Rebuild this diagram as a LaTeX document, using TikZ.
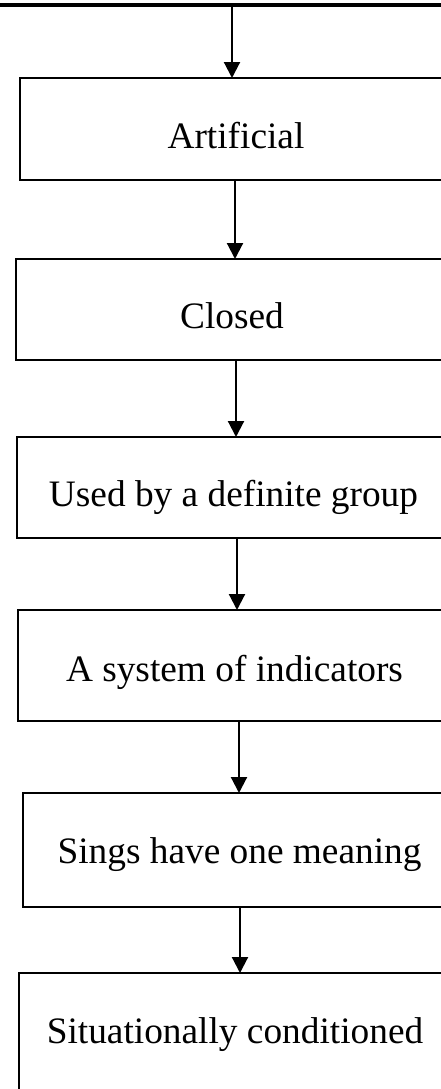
\documentclass[tikz,border=0pt]{standalone}
\usepackage{fontspec}
\setmainfont{Liberation Serif}
\usetikzlibrary{arrows.meta}
\begin{document}
\begin{tikzpicture}[x=0.75pt, y=-0.75pt,
  box/.style={draw=black, line width=1.5pt, inner sep=0pt, outer sep=0pt},
  label/.style={anchor=base, inner sep=0pt, font=\fontsize{28}{34}\selectfont},
  arr/.style={draw=black, line width=1.6pt, -{Triangle[width=12pt,length=12pt]}},
  topbar/.style={draw=black, line width=3.5pt}]
  \useasboundingbox (0,0) rectangle (441,1089);
  \clip (0,0) rectangle (441,1089);
  \fill[white] (0,0) rectangle (441,1089);

  % heavy rule along the top edge
  \coordinate (topL) at (-5,5);
  \coordinate (topR) at (446,5);
  \draw[topbar] (topL) -- (topR);

  % the chain of boxes (right side runs past the edge)
  \node[box, minimum width=330pt,    minimum height=76.5pt]  (b1) at (240,129)    {};
  \node[box, minimum width=333pt,    minimum height=75.75pt] (b2) at (238,309.5)  {};
  \node[box, minimum width=332.25pt, minimum height=75.75pt] (b3) at (238.5,487.5){};
  \node[box, minimum width=331.5pt,  minimum height=83.25pt] (b4) at (239,665.5)  {};
  \node[box, minimum width=327.75pt, minimum height=85.5pt]  (b5) at (241.5,850)  {};
  \node[box, minimum width=330.75pt, minimum height=102.75pt](b6) at (239.5,1041.5){};

  % box captions
  \node[label] (t1) at (236,148)   {Artificial};
  \node[label] (t2) at (232,328)   {Closed};
  \node[label] (t3) at (233.5,506) {Used by a definite group};
  \node[label] (t4) at (234.5,681) {A system of indicators};
  \node[label] (t5) at (239.5,863) {Sings have one meaning};
  \node[label] (t6) at (235,1043)  {Situationally conditioned};

  % arrow columns
  \coordinate (x1) at (232,0);
  \coordinate (x2) at (235,0);
  \coordinate (x3) at (236,0);
  \coordinate (x4) at (237,0);
  \coordinate (x5) at (239,0);
  \coordinate (x6) at (240,0);

  \draw[arr] (topL -| x1) -- (b1.north -| x1);
  \draw[arr] (b1.south -| x2) -- (b2.north -| x2);
  \draw[arr] (b2.south -| x3) -- (b3.north -| x3);
  \draw[arr] (b3.south -| x4) -- (b4.north -| x4);
  \draw[arr] (b4.south -| x5) -- (b5.north -| x5);
  \draw[arr] (b5.south -| x6) -- (b6.north -| x6);
\end{tikzpicture}
\end{document}
